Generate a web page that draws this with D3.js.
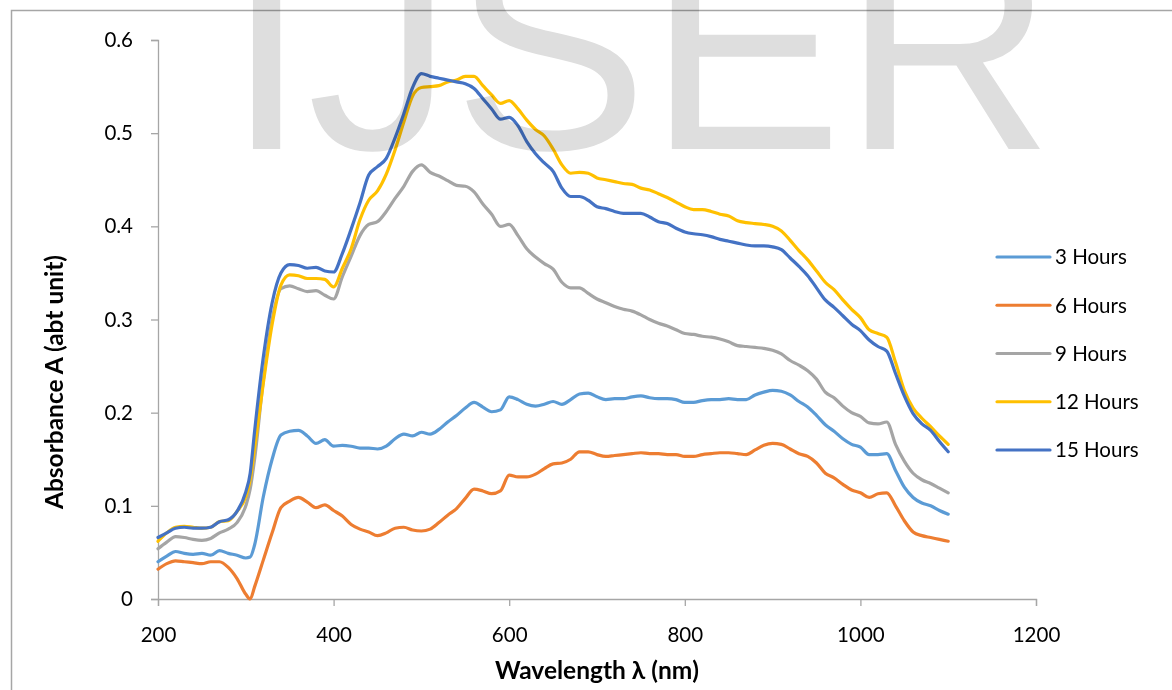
<!DOCTYPE html>
<html>
<head>
<meta charset="utf-8">
<script src="https://cdn.jsdelivr.net/npm/d3@7"></script>
<style>
  body { margin: 0; background: #fff; }
  text { font-family: Lato, "Open Sans", sans-serif; }
</style>
</head>
<body>
<script>
// wavelength grid (nm)
const wavelengths = [
  200, 210, 220, 230, 240, 250, 260, 270, 280, 290,
  300, 305, 310, 320, 330, 340, 350, 360, 370, 380, 390,
  400, 410, 420, 430, 440, 450, 460, 470, 480, 490,
  500, 510, 520, 530, 540, 550, 560, 570, 580, 590,
  600, 610, 620, 630, 640, 650, 660, 670, 680, 690,
  700, 710, 720, 730, 740, 750, 760, 770, 780, 790,
  800, 810, 820, 830, 840, 850, 860, 870, 880, 890,
  900, 910, 920, 930, 940, 950, 960, 970, 980, 990,
  1000, 1010, 1020, 1030, 1040, 1050, 1060, 1070, 1080, 1090,
  1100
];

const hours3 = [
  0.040, 0.046, 0.051, 0.049, 0.048, 0.049, 0.047, 0.052, 0.049, 0.047,
  0.044, 0.045, 0.058, 0.110, 0.150, 0.176, 0.180, 0.181, 0.175, 0.167, 0.171,
  0.164, 0.165, 0.164, 0.162, 0.162, 0.161, 0.164, 0.172, 0.177, 0.175,
  0.179, 0.177, 0.182, 0.190, 0.197, 0.205, 0.211, 0.206, 0.201, 0.203,
  0.217, 0.214, 0.209, 0.207, 0.209, 0.212, 0.209, 0.214, 0.220, 0.221,
  0.217, 0.214, 0.215, 0.215, 0.217, 0.218, 0.216, 0.215, 0.215, 0.214,
  0.211, 0.211, 0.213, 0.214, 0.214, 0.215, 0.214, 0.214, 0.219, 0.222,
  0.224, 0.223, 0.219, 0.212, 0.206, 0.197, 0.187, 0.180, 0.172, 0.166,
  0.163, 0.155, 0.155, 0.156, 0.138, 0.120, 0.109, 0.103, 0.100, 0.095,
  0.091
];

const hours6 = [
  0.032, 0.038, 0.041, 0.040, 0.039, 0.038, 0.040, 0.040, 0.034, 0.022,
  0.005, 0.000, 0.013, 0.042, 0.071, 0.098, 0.105, 0.109, 0.104, 0.098, 0.101,
  0.095, 0.089, 0.080, 0.075, 0.072, 0.068, 0.071, 0.076, 0.077, 0.074,
  0.073, 0.075, 0.082, 0.090, 0.097, 0.108, 0.118, 0.116, 0.113, 0.116,
  0.133, 0.131, 0.131, 0.134, 0.140, 0.145, 0.146, 0.150, 0.158, 0.158,
  0.155, 0.153, 0.154, 0.155, 0.156, 0.157, 0.156, 0.156, 0.155, 0.155,
  0.153, 0.153, 0.155, 0.156, 0.157, 0.157, 0.156, 0.155, 0.160, 0.165,
  0.167, 0.166, 0.161, 0.156, 0.153, 0.146, 0.135, 0.130, 0.123, 0.117,
  0.114, 0.109, 0.113, 0.114, 0.100, 0.084, 0.072, 0.068, 0.066, 0.064,
  0.062
];

const hours9 = [
  0.054, 0.061, 0.067, 0.066, 0.064, 0.063, 0.065, 0.071, 0.075, 0.082,
  0.100, 0.118, 0.150, 0.235, 0.300, 0.333, 0.336, 0.333, 0.330, 0.331, 0.326,
  0.322, 0.346, 0.368, 0.390, 0.402, 0.405, 0.416, 0.430, 0.443, 0.459,
  0.466, 0.458, 0.454, 0.449, 0.444, 0.443, 0.437, 0.424, 0.413, 0.400,
  0.402, 0.390, 0.376, 0.367, 0.360, 0.354, 0.340, 0.334, 0.334, 0.328,
  0.322, 0.318, 0.314, 0.311, 0.309, 0.305, 0.300, 0.296, 0.293, 0.289,
  0.285, 0.284, 0.282, 0.281, 0.279, 0.276, 0.272, 0.271, 0.270, 0.269,
  0.267, 0.263, 0.256, 0.251, 0.245, 0.236, 0.222, 0.216, 0.207, 0.200,
  0.196, 0.189, 0.188, 0.190, 0.166, 0.148, 0.135, 0.128, 0.124, 0.119,
  0.114
];

const hours12 = [
  0.062, 0.071, 0.077, 0.078, 0.077, 0.076, 0.077, 0.083, 0.084, 0.094,
  0.110, 0.128, 0.162, 0.232, 0.295, 0.337, 0.348, 0.347, 0.344, 0.344, 0.343,
  0.335, 0.355, 0.376, 0.407, 0.428, 0.438, 0.456, 0.482, 0.512, 0.540,
  0.549, 0.550, 0.551, 0.555, 0.557, 0.561, 0.561, 0.551, 0.541, 0.532,
  0.535, 0.526, 0.514, 0.504, 0.497, 0.483, 0.466, 0.457, 0.458, 0.457,
  0.452, 0.450, 0.448, 0.446, 0.445, 0.441, 0.439, 0.435, 0.431, 0.426,
  0.421, 0.418, 0.418, 0.416, 0.413, 0.411, 0.406, 0.404, 0.403, 0.402,
  0.400, 0.395, 0.385, 0.374, 0.364, 0.352, 0.340, 0.332, 0.321, 0.311,
  0.302, 0.289, 0.285, 0.281, 0.254, 0.224, 0.205, 0.194, 0.185, 0.175,
  0.166
];

const hours15 = [
  0.066, 0.071, 0.076, 0.077, 0.076, 0.076, 0.077, 0.083, 0.085, 0.094,
  0.115, 0.135, 0.180, 0.260, 0.318, 0.350, 0.359, 0.358, 0.355, 0.356, 0.352,
  0.351, 0.371, 0.397, 0.425, 0.455, 0.464, 0.473, 0.495, 0.521, 0.549,
  0.564, 0.561, 0.559, 0.557, 0.555, 0.553, 0.548, 0.537, 0.526, 0.515,
  0.517, 0.508, 0.491, 0.478, 0.468, 0.459, 0.441, 0.432, 0.432, 0.428,
  0.421, 0.419, 0.416, 0.414, 0.414, 0.414, 0.410, 0.405, 0.403, 0.398,
  0.394, 0.392, 0.391, 0.389, 0.386, 0.384, 0.382, 0.380, 0.379, 0.379,
  0.378, 0.375, 0.366, 0.357, 0.347, 0.334, 0.321, 0.313, 0.304, 0.295,
  0.288, 0.278, 0.271, 0.266, 0.242, 0.218, 0.199, 0.188, 0.181, 0.169,
  0.158
];

const seriesNames = ['3 Hours', '6 Hours', '9 Hours', '12 Hours', '15 Hours'];
const seriesValues = [hours3, hours6, hours9, hours12, hours15];
const colors = ['#5B9BD5', '#ED7D31', '#A5A5A5', '#FFC000', '#4472C4'];

const xTicks = [200, 400, 600, 800, 1000, 1200];
const yTicks = [0, 0.1, 0.2, 0.3, 0.4, 0.5, 0.6];

const [w, h] = [1172, 690];
const plot = { left: 158, right: 1036, top: 40, bottom: 599 };

const svg = d3.select('body')
    .append('svg')
    .attr('width', w)
    .attr('height', h);

// chart frame (only top and left edges are in view)
svg.append('path')
    .attr('d', `M11.5,${h} V10.5 H${w}`)
    .attr('fill', 'none')
    .attr('stroke', '#a6a6a6')
    .attr('stroke-width', 1.5);

const x = d3.scaleLinear().domain([200, 1200]).range([plot.left, plot.right]);
const y = d3.scaleLinear().domain([0, 0.6]).range([plot.bottom, plot.top]);

// axes
const xAxis = svg.append('g')
    .attr('transform', `translate(0, ${plot.bottom})`)
    .call(d3.axisBottom(x).tickValues(xTicks).tickSize(7).tickPadding(21).tickFormat(d3.format('d')));

const yAxis = svg.append('g')
    .attr('transform', `translate(${plot.left}, 0)`)
    .call(d3.axisLeft(y).tickValues(yTicks).tickSize(7).tickPadding(18).tickFormat(d => d === 0 ? '0' : d3.format('.1f')(d)));

[xAxis, yAxis].forEach(g => {
    g.select('.domain').attr('stroke', '#a6a6a6').attr('stroke-width', 1.3);
    g.selectAll('.tick line').attr('stroke', '#a6a6a6').attr('stroke-width', 1.3);
    g.selectAll('.tick text')
        .attr('fill', '#000')
        .style('font-family', 'Lato, sans-serif')
        .style('font-size', '20.5px');
});

// axis titles
svg.append('text')
    .attr('x', 597)
    .attr('y', 679)
    .attr('text-anchor', 'middle')
    .attr('font-weight', 'bold')
    .attr('font-size', '24.5px')
    .text('Wavelength λ (nm)');

svg.append('text')
    .attr('transform', 'translate(63, 382) rotate(-90)')
    .attr('text-anchor', 'middle')
    .attr('font-weight', 'bold')
    .attr('font-size', '24.5px')
    .text('Absorbance A (abt unit)');

// lines
const line = d3.line()
    .x(d => x(d[0]))
    .y(d => y(d[1]))
    .curve(d3.curveMonotoneX);

seriesValues.forEach((vals, i) => {
    svg.append('path')
        .datum(wavelengths.map((wl, j) => [wl, vals[j]]))
        .attr('fill', 'none')
        .attr('stroke', colors[i])
        .attr('stroke-width', 3.2)
        .attr('stroke-linejoin', 'round')
        .attr('stroke-linecap', 'round')
        .attr('d', line);
});

// legend
const legend = svg.append('g').attr('transform', 'translate(997, 257)');
seriesNames.forEach((name, i) => {
    const row = legend.append('g').attr('transform', `translate(0, ${i * 48.25})`);
    row.append('line')
        .attr('x1', 0).attr('x2', 53)
        .attr('stroke', colors[i])
        .attr('stroke-width', 3.2)
        .attr('stroke-linecap', 'round');
    row.append('text')
        .attr('x', 58)
        .attr('dy', '0.36em')
        .attr('font-size', '20.5px')
        .text(name);
});

// watermark on top, multiplied like the scanned page
svg.append('text')
    .attr('x', 226)
    .attr('y', 149)
    .style('font-family', '"Liberation Sans", Arial, sans-serif')
    .attr('font-size', '292px')
    .attr('fill', '#dedede')
    .style('mix-blend-mode', 'multiply')
    .text('IJSER');
</script>
</body>
</html>
